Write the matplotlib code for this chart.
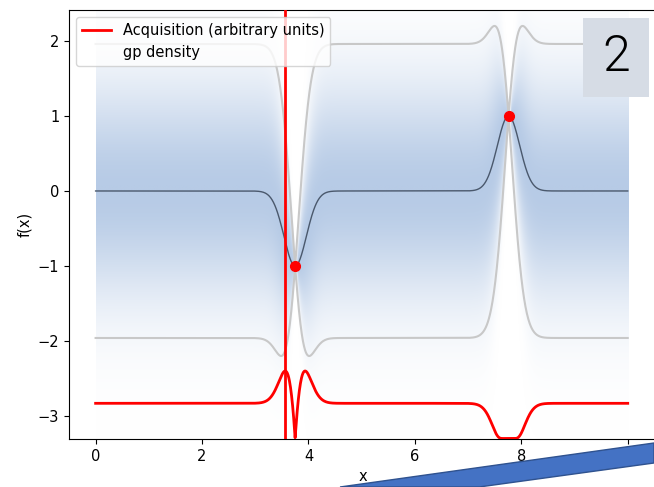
import numpy as np
import matplotlib
matplotlib.use("Agg")
import matplotlib.pyplot as plt
from matplotlib.colors import LinearSegmentedColormap
from matplotlib.patches import Rectangle, Polygon, Patch
from matplotlib.lines import Line2D
from math import erf

plt.rcParams["font.size"] = 10.5

# Observations
obs_x = [3.75, 7.76]
obs_y = [-1.0, 1.0]

# Kernel hyper-parameters
length_scale = 0.21
signal_var = 1.0

# Plot ranges and tick labels
x_ticks = [0, 2, 4, 6, 8, 10]
y_ticks = [-3, -2, -1, 0, 1, 2]
x_range = (0.0, 10.0)
xlim = (-0.5, 10.55)
ylim = (-3.307, 2.413)
acq_base = -3.30
acq_height = 0.90


def rbf(a, b):
    d = np.subtract.outer(a, b)
    return signal_var * np.exp(-0.5 * d ** 2 / length_scale ** 2)


X = np.asarray(obs_x)
Y = np.asarray(obs_y)
xs = np.linspace(*x_range, 1500)
K = rbf(X, X) + 1e-10 * np.eye(len(X))
Ks = rbf(xs, X)
mu = Ks @ np.linalg.solve(K, Y)
var = signal_var - np.sum(Ks * np.linalg.solve(K, Ks.T).T, axis=1)
sd = np.sqrt(np.clip(var, 1e-12, None))

# Expected improvement (minimisation)
best = Y.min()
z = (best - mu) / sd
Phi = 0.5 * (1 + np.vectorize(erf)(z / np.sqrt(2)))
phi = np.exp(-0.5 * z ** 2) / np.sqrt(2 * np.pi)
ei = np.clip((best - mu) * Phi + sd * phi, 0, None)
ei[var < 1e-9] = 0.0
acq = acq_base + acq_height * ei / ei.max()
x_next = xs[np.argmax(ei)]

fig = plt.figure(figsize=(6.54, 4.87), dpi=100)
W, H = 654, 487
ax = fig.add_axes([69 / W, 1 - 439 / H, (657 - 69) / W, (439 - 10) / H])

# Predictive density shading
ys = np.linspace(ylim[0], ylim[1], 700)
zz = (ys[:, None] - mu[None, :]) / sd[None, :]
weight = np.clip(sd / 0.18, 0, 1)
dens = np.exp(-0.5 * zz ** 2) * weight[None, :]
cmap = LinearSegmentedColormap.from_list("gp", ["#ffffff", "#b7cbe6"])
ax.imshow(dens, extent=[x_range[0], x_range[1], ylim[0], ylim[1]], origin="lower",
          aspect="auto", cmap=cmap, vmin=0, vmax=1.0, interpolation="bilinear", zorder=0)

ax.plot(xs, mu + 1.96 * sd, color="#c8c8c8", lw=1.5, zorder=2)
ax.plot(xs, mu - 1.96 * sd, color="#c8c8c8", lw=1.5, zorder=2)
ax.plot(xs, mu, color="#4a586c", lw=1.0, zorder=3)
ax.plot(xs, acq, color="red", lw=2, zorder=4)
ax.axvline(x_next, color="red", lw=2, zorder=4)
ax.plot(X, Y, "o", color="red", ms=7, zorder=5)

ax.set_xlim(*xlim)
ax.set_ylim(*ylim)
ax.set_xticks(x_ticks)
ax.set_yticks(y_ticks)
ax.set_xlabel("x")
ax.set_ylabel("f(x)")

handles = [Line2D([], [], color="red", lw=2), Patch(facecolor="none", edgecolor="none")]
ax.legend(handles, ["Acquisition (arbitrary units)", "gp density"], loc="upper left")

# Slide overlays: number box and arrow shape
fig.patches.append(Rectangle((583 / W, 1 - 97 / H), 66 / W, 79 / H, transform=fig.transFigure,
                             facecolor="#d6dce5", edgecolor="none", zorder=10))
fig.text(616 / W, 1 - 57 / H, "2", fontsize=36, family="Roboto", fontweight=300,
         ha="center", va="center", zorder=11)
pts = [(340, 487), (654, 443), (654, 463), (479, 487)]
fig.patches.append(Polygon([(px / W, 1 - py / H) for px, py in pts], closed=True,
                           transform=fig.transFigure, facecolor="#4472c4",
                           edgecolor="#2f528f", lw=1, zorder=10))

fig.savefig("out.png", dpi=100)
